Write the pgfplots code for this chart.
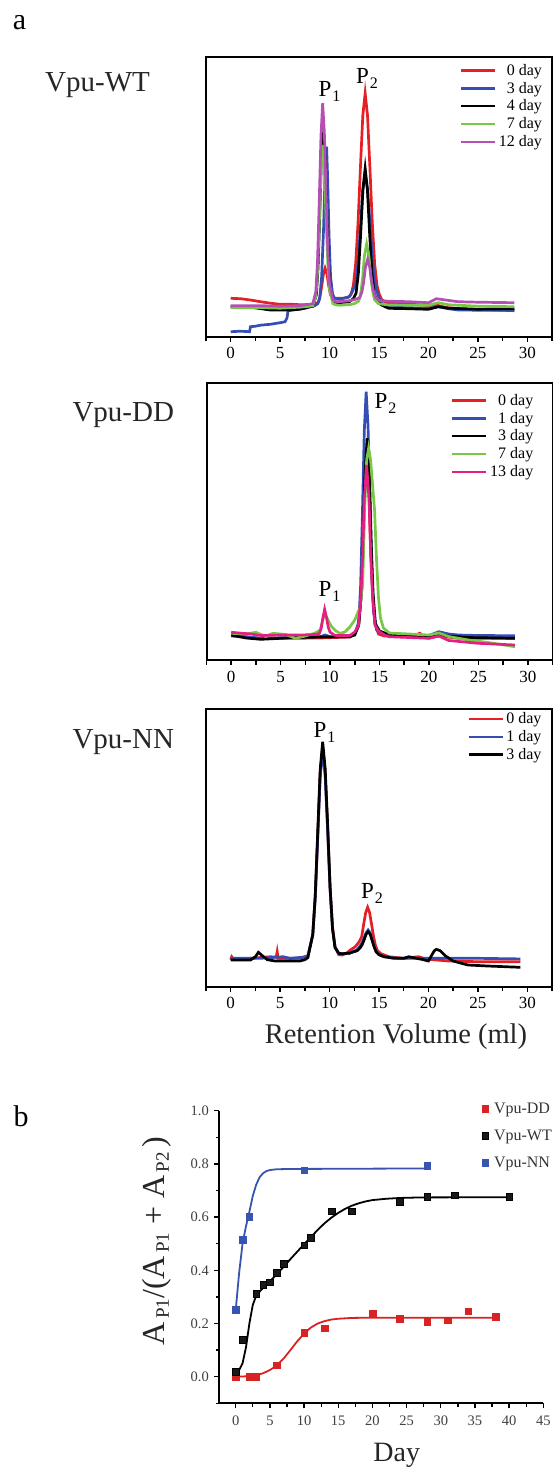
\documentclass[border=0pt]{standalone}
\usepackage{pgfplots}
\pgfplotsset{compat=1.18}
\usepackage{fontspec}
\setmainfont{Liberation Serif}

\definecolor{cRed}{RGB}{228,32,36}
\definecolor{cBlue}{RGB}{52,78,180}
\definecolor{cGreen}{RGB}{120,200,70}
\definecolor{cPurple}{RGB}{180,80,180}
\definecolor{cPink}{RGB}{228,30,130}
\definecolor{bRed}{RGB}{215,35,35}
\definecolor{bBlue}{RGB}{55,85,175}

\newcommand{\sub}[1]{\raisebox{-4pt}{\fontsize{19}{19}\selectfont\,#1}}
\newcommand{\Pk}[1]{P\kern1pt\raisebox{-5pt}{\fontsize{16}{16}\selectfont #1}}

\pgfplotsset{
  chrom/.style={
    scale only axis, width=346pt,
    xmin=-2.5, xmax=32.5, ymin=0,
    axis line style={line width=2pt},
    xtick={0,5,...,30}, minor xtick={-2.5,2.5,...,32.5},
    ytick=\empty, xtick pos=left,
    tick align=outside, major tick length=5pt, minor tick length=4.5pt,
    every tick/.style={line width=1.5pt, black},
    xticklabel style={font=\fontsize{17}{17}\selectfont, yshift=-2.4pt},
    /pgf/number format/assume math mode=true,
    legend cell align=right,
    legend style={draw=none, fill=none, at={(1,1)}, anchor=north east,
      font=\fontsize{16}{17}\selectfont, row sep=4.3pt, column sep=2pt,
      inner sep=0pt, nodes={inner sep=0.5pt}},
    legend image code/.code={\draw[#1, line width=2.7pt] (0pt,0pt) -- (34pt,0pt);},
    every axis plot/.append style={line width=2.7pt},
  }
}

\begin{document}
\begin{tikzpicture}
\path[use as bounding box] (0pt,0pt) rectangle (553pt,-1468pt);

% ---- a: Vpu-WT
\begin{axis}[chrom, at={(206pt,-336.7pt)}, anchor=south west,
  height=279.4pt, ymax=279.4, legend style={xshift=-9.3pt, yshift=-6pt}]
\addplot[cRed] coordinates {(0,38.4) (1,38) (2,36.7) (3,35) (4,33.5) (5,32.4) (6,32.5) (7,32) (8,32.2) (8.5,32.3) (8.85,34.2) (9.02,39.6) (9.2,50) (9.37,62.2) (9.55,68.4) (9.73,63) (9.9,51.8) (10.08,42) (10.25,39.5) (10.6,38.5) (11,38.4) (11.5,38.6) (11.9,39.5) (12.16,42) (12.4,51) (12.64,73) (12.88,114) (13.12,169) (13.36,221) (13.6,243.4) (13.84,221) (14.08,169) (14.32,114) (14.56,73) (14.8,51) (15.04,42) (15.28,37) (15.6,35) (16,33.4) (17,33) (18,32.5) (19,32) (20,31) (20.8,32) (21.2,30.5) (22,29) (24,27.5) (26,27) (28.7,26)};
\addlegendentry{0 day}
\addplot[cBlue] coordinates {(0,5) (1,5.5) (1.9,5) (2,10) (2.5,10.5) (3,11.5) (4,12.4) (5,14) (5.5,15) (5.7,19) (5.8,26) (6.5,27) (7.5,28.4) (8.5,31) (8.8,33) (9,38) (9.2,60) (9.4,110) (9.55,165) (9.7,190) (9.8,160) (9.95,100) (10.1,60) (10.3,43) (10.5,38) (11,37.4) (12,40) (12.3,45) (12.66,53.5) (12.9,76) (13.13,111) (13.37,147) (13.6,163) (13.83,148) (14.07,116) (14.3,81) (14.54,57) (14.77,46) (15.1,36) (15.5,31) (16,30) (18,29) (20,28.4) (21,30) (22,28) (23,26.7) (25,26.5) (28.7,26.5)};
\addlegendentry{3 day}
\addplot[black] coordinates {(0,30) (2,29.5) (4,26.7) (6,26.7) (7,27.5) (8,30) (8.3,30.5) (8.66,41.7) (8.83,68.6) (9,120.5) (9.18,181) (9.35,210) (9.52,185) (9.7,129) (9.87,79) (10.04,49) (10.39,35) (10.67,33.4) (11,34) (12,35) (12.4,38) (12.68,43.4) (12.91,63) (13.14,101.5) (13.37,147) (13.6,168.4) (13.83,147) (14.06,101.5) (14.29,63) (14.52,43.4) (14.75,37) (15.2,32) (15.6,30) (16,28.4) (18,28) (20,27.4) (21,30) (22,28.5) (25,27.5) (28.7,28)};
\addlegendentry{4 day}
\addplot[cGreen] coordinates {(0,29) (3,29) (5,28.5) (7,29.5) (8,30.5) (8.3,31) (8.61,40.6) (8.78,64.7) (8.95,111) (9.13,166) (9.3,191.7) (9.47,169) (9.65,119) (9.82,74) (9.99,47) (10.34,33) (10.68,31.7) (11,31.5) (12,32) (12.5,33) (12.95,35.6) (13.17,44.7) (13.35,59.3) (13.52,80.6) (13.75,92.7) (13.98,80.6) (14.15,62) (14.33,47) (14.55,37) (14.95,33) (16,31.7) (18,31.5) (20,31.5) (21,34) (22,32) (25,30.5) (28.7,30)};
\addlegendentry{7 day}
\addplot[cPurple] coordinates {(0,31) (3,31) (5,30.5) (7,31) (8,32.5) (8.3,33) (8.61,45) (8.78,75) (8.95,133) (9.13,201) (9.3,233.4) (9.47,205) (9.65,143) (9.82,87) (9.99,53) (10.34,37) (10.68,35) (11,35) (12,36) (12.5,37) (13.05,39) (13.27,44.7) (13.45,54.6) (13.62,69) (13.85,77.4) (14.08,69) (14.25,55) (14.43,46) (14.65,39) (15.05,36) (16,35.5) (18,35) (20,34) (20.8,38) (21.5,37) (23,35) (25,34.5) (28.7,34)};
\addlegendentry{12 day}
\end{axis}

% ---- a: Vpu-DD
\begin{axis}[chrom, at={(206.5pt,-660pt)}, anchor=south west,
  height=276.7pt, ymax=276.7, legend style={xshift=-18.5pt, yshift=-10pt}]
\addplot[cRed] coordinates {(0,24) (3,21.7) (6,21.7) (9,22) (12,23) (12.5,27) (12.86,33.6) (13.1,60) (13.28,103) (13.46,165) (13.7,200) (13.94,165) (14.12,106) (14.3,66) (14.54,36) (14.9,26) (15.5,24) (18,23) (19.1,26.7) (19.4,23) (20,22) (21,24) (23,21.7) (26,21.7) (28.7,21.7)};
\addlegendentry{0 day}
\addplot[cBlue] coordinates {(0,25) (3,21.7) (6,22.5) (9,23.3) (9.5,25) (10,23.3) (12,23.3) (12.5,26) (12.9,38) (13.09,74) (13.27,145) (13.46,229) (13.65,268.3) (13.84,234) (14.03,158) (14.21,89) (14.4,48) (14.71,30) (15.2,27) (16,26) (18,25) (20,24.5) (21,28.3) (22,26) (23,25) (25,24.5) (28.7,24.3)};
\addlegendentry{1 day}
\addplot[black] coordinates {(0,25) (1.5,22) (3,20.7) (5,21.7) (6,22.3) (9,23) (12,23.3) (12.5,25) (12.91,35.3) (13.15,65) (13.33,112) (13.51,182) (13.75,221.7) (13.99,182) (14.17,115) (14.35,67) (14.59,36) (15,29) (15.4,27.5) (16,25) (18,24) (20,23.3) (21,26) (22,24) (24,22.5) (28.7,21.7)};
\addlegendentry{3 day}
\addplot[cGreen] coordinates {(0,26.7) (1.5,26) (2.5,27.7) (3.5,23.5) (4.2,26.7) (5.5,25.5) (6.5,21.7) (7.5,24) (8.5,27) (9,30) (9.4,45) (9.7,42) (10.1,34) (10.6,29) (11,26.7) (11.5,28) (12,33) (12.5,40) (13,52) (13.3,75) (13.5,150) (13.7,200) (13.9,212) (14.1,200) (14.3,175) (14.5,150) (14.7,100) (14.9,62) (15.1,42) (15.4,32) (16,27) (18,26) (20,25) (21,27) (22,23.5) (24,20) (26,17.5) (28.7,13.3)};
\addlegendentry{7 day}
\addplot[cPink] coordinates {(0,27.7) (2,26) (3,24.5) (5,25) (7,25) (8.5,25.5) (8.91,26.5) (9.09,31) (9.27,42) (9.45,50.7) (9.63,43) (9.81,33) (9.99,28) (10.35,25.3) (10.6,24.5) (12,24.5) (12.5,28) (12.86,34) (13.1,60) (13.28,101) (13.46,161) (13.7,195) (13.94,161) (14.12,104) (14.3,64) (14.54,35) (14.9,29) (15.2,27) (15.5,25) (16,23.3) (18,22.5) (20,21.7) (21,24) (22,19.5) (25,16.7) (28.7,15)};
\addlegendentry{13 day}
\end{axis}

% ---- a: Vpu-NN
\begin{axis}[chrom, at={(206pt,-986.7pt)}, anchor=south west,
  height=277.3pt, ymax=277.3, legend style={xshift=-9.8pt, yshift=-2.6pt},
  xlabel={Retention Volume (ml)},
  xlabel style={at={(axis description cs:0.549,-0.204)}, anchor=base,
    font=\fontsize{28.5}{28.5}\selectfont, color=black!85}]
\addplot[cRed] coordinates {(0,27) (0.1,30) (0.3,27.5) (2,28.4) (4,30) (4.6,29.5) (4.7,35) (4.8,28.4) (7,28.4) (7.8,31) (8.3,52) (8.55,90) (8.8,151) (9.05,213) (9.3,240) (9.55,215) (9.8,160) (10.05,99) (10.3,59) (10.55,40) (10.93,32) (11.3,31.7) (11.7,33.5) (12.1,36.7) (12.6,40) (13,45) (13.25,50) (13.45,62.4) (13.65,74) (13.85,79.4) (14.05,74) (14.25,62.4) (14.45,50) (14.65,41) (14.85,36) (15.2,33) (16,30) (17.5,28.4) (19,30) (19.5,28.5) (20,27.4) (22,25.7) (25,25) (29.3,25)};
\addlegendentry{0 day}
\addplot[cBlue] coordinates {(0,28.4) (3,28.4) (5.3,30) (6,28.4) (7.3,29.5) (7.8,30) (8.3,52) (8.55,89) (8.8,149) (9.05,210) (9.3,236.7) (9.55,212) (9.8,158) (10.05,98) (10.3,58) (10.55,40) (10.93,33) (11.3,33) (12,33.5) (12.8,37) (13.1,41) (13.3,44) (13.5,49) (13.7,54) (13.9,56.7) (14.1,54) (14.3,47.5) (14.5,40.5) (14.7,35.4) (15,32) (15.5,30) (17,28.4) (20,28.4) (25,28.4) (29.3,27.8)};
\addlegendentry{1 day}
\addplot[black] coordinates {(0,26.7) (2,26.7) (2.5,30) (2.8,34.4) (3.2,31) (3.7,27) (4.5,25.7) (7,25.7) (7.5,27) (7.8,29) (8.3,52) (8.55,91) (8.8,154) (9.05,217) (9.3,245) (9.55,219) (9.8,163) (10.05,100) (10.3,58) (10.55,39) (10.93,33.4) (11.3,33) (12,33.5) (12.8,36) (13.1,39) (13.3,42) (13.5,47) (13.7,52.5) (13.9,55) (14.1,52.5) (14.3,46.4) (14.5,40) (14.7,35) (15,32) (15.5,30) (16.5,28.4) (17.5,28.4) (18,30) (18.5,29) (19.5,27) (20,25.7) (20.3,31) (20.6,36) (20.8,37.4) (21.2,36) (21.7,31) (22.5,25.7) (23.5,23) (24,21.7) (26,20.7) (29.3,19.4)};
\addlegendentry{3 day}
\end{axis}

% ---- b
\begin{axis}[at={(219.3pt,-1403.3pt)}, anchor=south west,
  scale only axis, width=324pt, height=292.6pt,
  xmin=-2.4, xmax=45, ymin=-0.1, ymax=1.0,
  axis lines*=left, axis line style={line width=1.8pt},
  xtick={0,5,...,45}, minor xtick={2.5,7.5,...,42.5},
  ytick={0,0.2,0.4,0.6,0.8,1.0}, minor ytick={-0.1,0.1,0.3,0.5,0.7,0.9},
  tick align=outside, major tick length=5pt, minor tick length=3.5pt,
  every tick/.style={line width=1.3pt, black},
  /pgf/number format/assume math mode=true,
  ticklabel style={font=\fontsize{14.5}{14.5}\selectfont, text=black!75},
  xticklabel style={yshift=-4pt},
  yticklabel style={xshift=-2pt, /pgf/number format/fixed,
    /pgf/number format/fixed zerofill, /pgf/number format/precision=1},
  xlabel={Day},
  xlabel style={at={(axis description cs:0.5475,-0.1996)}, anchor=base,
    font=\fontsize{28}{28}\selectfont, color=black!85},
  ylabel={A\sub{P1}/(A\sub{P1} + A\sub{P2}\,)},
  ylabel style={at={(axis description cs:-0.1676,0.5554)}, anchor=base,
    font=\fontsize{32}{32}\selectfont, color=black!85},
  legend cell align=left,
  legend style={draw=none, fill=none, at={(axis description cs:0.81,1.03)},
    anchor=north west, font=\fontsize{16}{17}\selectfont, text=black!80,
    row sep=14pt, column sep=5pt, inner sep=0pt, nodes={inner sep=0.5pt}},
  legend image code/.code={\draw[#1] plot coordinates {(0pt,0pt)};},
  mark size=3.3pt]
\addplot[bRed, line width=1.8pt, forget plot] coordinates {(0,0) (2,0.002) (3,0.006) (4,0.013) (5,0.025) (6,0.042) (7,0.068) (8,0.1) (9,0.133) (10,0.162) (11,0.185) (12,0.2) (13,0.209) (14,0.215) (15,0.218) (17,0.221) (20,0.222) (25,0.222) (38,0.222)};
\addplot[black, line width=1.8pt, forget plot] coordinates {(0,0.012) (0.5,0.025) (1,0.05) (1.5,0.11) (2,0.2) (2.5,0.27) (3,0.305) (3.5,0.32) (4,0.333) (5,0.358) (6,0.385) (7,0.413) (8,0.442) (9,0.47) (10,0.498) (11,0.525) (12,0.552) (13,0.577) (14,0.598) (15,0.616) (16,0.631) (17,0.643) (18,0.652) (19,0.659) (20,0.664) (22,0.669) (24,0.672) (27,0.674) (40,0.675)};
\addplot[bBlue, line width=1.8pt, forget plot] coordinates {(0,0.25) (0.5,0.39) (1,0.5) (1.5,0.565) (2,0.62) (2.5,0.68) (3,0.722) (3.5,0.75) (4,0.765) (4.5,0.773) (5,0.777) (6,0.78) (8,0.781) (28,0.783)};
\addplot[only marks, mark=square*, bRed, mark options={draw=bRed, fill=bRed}] coordinates {(0,0) (2,0) (3,0) (6,0.043) (10,0.165) (13,0.182) (20,0.238) (24,0.219) (28,0.207) (31,0.213) (34,0.247) (38,0.226)};
\addlegendentry{Vpu-DD}
\addplot[only marks, mark=square*, black, mark options={draw=black, fill=black!90}] coordinates {(0,0.019) (1,0.14) (3,0.311) (4,0.345) (5,0.355) (6,0.392) (7,0.424) (10,0.495) (11,0.523) (14,0.623) (17,0.623) (24,0.658) (28,0.677) (32,0.683) (40,0.677)};
\addlegendentry{Vpu-WT}
\addplot[only marks, mark=square*, bBlue, mark options={draw=bBlue, fill=bBlue}] coordinates {(0,0.251) (1,0.516) (2,0.601) (10,0.777) (28,0.794)};
\addlegendentry{Vpu-NN}
\end{axis}

% ---- panel letters, titles, peak labels
\node[anchor=base west, inner sep=0, font=\fontsize{30}{30}\selectfont] at (12.7pt,-29.3pt) {a};
\node[anchor=base west, inner sep=0, font=\fontsize{30}{30}\selectfont] at (13.3pt,-1126.7pt) {b};
\node[anchor=base west, inner sep=0, font=\fontsize{29}{29}\selectfont, black!85] at (45pt,-91.7pt) {Vpu-WT};
\node[anchor=base west, inner sep=0, font=\fontsize{29}{29}\selectfont, black!85] at (72.3pt,-421.7pt) {Vpu-DD};
\node[anchor=base west, inner sep=0, font=\fontsize{29}{29}\selectfont, black!85] at (72.3pt,-748.3pt) {Vpu-NN};
\node[anchor=base west, inner sep=0, font=\fontsize{23}{23}\selectfont] at (318.5pt,-96pt) {\Pk{1}};
\node[anchor=base west, inner sep=0, font=\fontsize{23}{23}\selectfont] at (356pt,-83.3pt) {\Pk{2}};
\node[anchor=base west, inner sep=0, font=\fontsize{23}{23}\selectfont] at (374.5pt,-408.3pt) {\Pk{2}};
\node[anchor=base west, inner sep=0, font=\fontsize{23}{23}\selectfont] at (318.5pt,-596.7pt) {\Pk{1}};
\node[anchor=base west, inner sep=0, font=\fontsize{23}{23}\selectfont] at (313.5pt,-737.3pt) {\Pk{1}};
\node[anchor=base west, inner sep=0, font=\fontsize{23}{23}\selectfont] at (361pt,-898.3pt) {\Pk{2}};
\end{tikzpicture}
\end{document}
